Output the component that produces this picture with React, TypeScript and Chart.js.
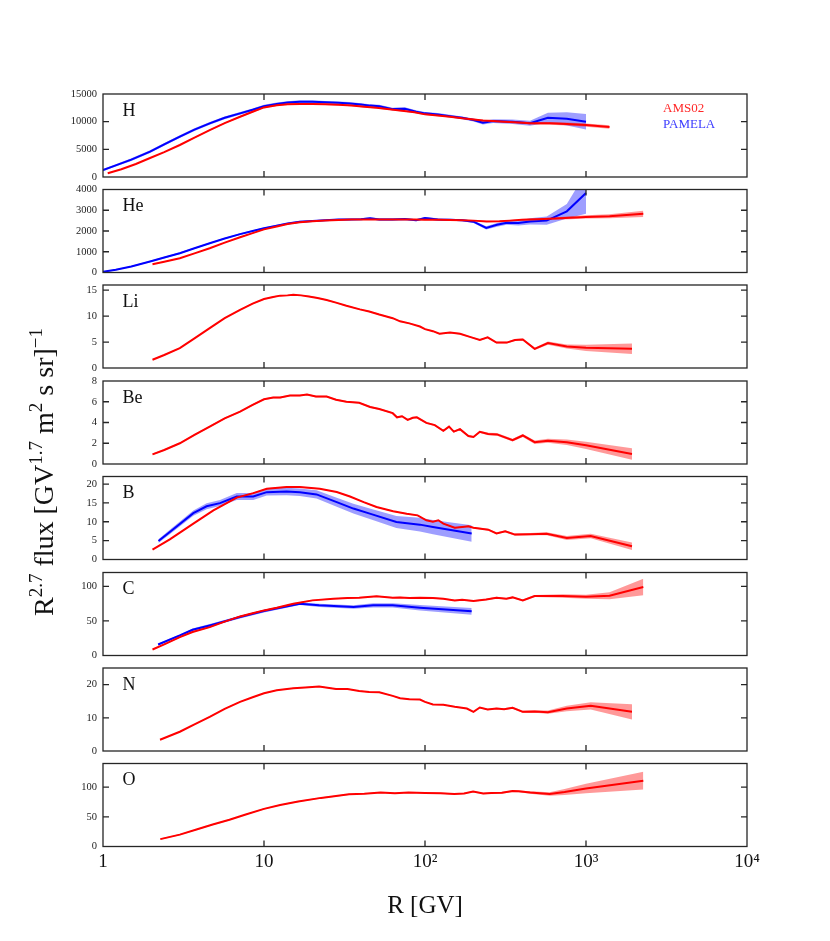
import { useEffect, useRef } from 'react';
import { Chart, registerables } from 'chart.js';

Chart.register(...registerables);

const FIG_W = 830;
const FIG_H = 941;
const AXIS_LEFT = 103;
const AXIS_RIGHT = 747;
const PANEL_H = 83;
const PANEL_TOPS = [94, 189.5, 285, 381, 476.5, 572.5, 668, 763.5];

const FONT = '"Liberation Serif", "DejaVu Serif", serif';
const RED = '#ff0000';
const BLUE = '#0000ff';
const RED_BAND = 'rgba(255,0,0,0.4)';
const BLUE_BAND = 'rgba(0,0,255,0.38)';
const FRAME = '#262626';

const X_TICKS = [1, 10, 100, 1000, 10000];
const X_TICK_LABELS = ['1', '10', '10²', '10³', '10⁴'];

const ELEMENTS = ['H', 'He', 'Li', 'Be', 'B', 'C', 'N', 'O'];
const Y_MAX = [15000, 4000, 16, 8, 22, 120, 25, 140];
const Y_TICKS = [
  [0, 5000, 10000, 15000],
  [0, 1000, 2000, 3000, 4000],
  [0, 5, 10, 15],
  [0, 2, 4, 6, 8],
  [0, 5, 10, 15, 20],
  [0, 50, 100],
  [0, 10, 20],
  [0, 50, 100],
];

// ---- H ----
const H_AMS_R = [1.07, 1.3, 1.6, 1.96, 2.4, 3.0, 3.7, 4.6, 5.7, 7.1, 8.5, 10, 12, 14, 16.7, 20, 24, 29, 35, 42, 50, 60, 72, 86, 100, 120, 143, 170, 200, 229, 265, 310, 360, 449, 594, 760, 1000, 1400];
const H_AMS_F = [670, 1400, 2350, 3430, 4500, 5780, 7100, 8480, 9750, 10890, 11800, 12580, 12950, 13150, 13180, 13200, 13150, 13050, 12900, 12700, 12500, 12250, 11970, 11700, 11320, 11100, 10900, 10600, 10400, 10200, 10100, 10000, 9900, 9700, 9700, 9570, 9390, 9030];
const H_AMS_E = [60, 60, 60, 70, 80, 90, 100, 110, 120, 130, 130, 130, 130, 130, 130, 130, 130, 130, 130, 130, 130, 130, 130, 130, 130, 130, 140, 140, 150, 160, 170, 180, 200, 220, 250, 280, 300, 320];
const H_PAM_R = [1.0, 1.2, 1.5, 1.96, 2.4, 3.0, 3.7, 4.6, 5.7, 7.1, 8.5, 10, 12, 14, 16.7, 20, 24, 29, 34, 40, 45.6, 52, 63, 75, 88, 100, 120, 143, 170, 200, 229, 265, 350, 449, 580, 760, 1000];
const H_PAM_F = [1260, 2100, 3150, 4570, 5900, 7280, 8550, 9700, 10700, 11500, 12150, 12800, 13200, 13450, 13600, 13600, 13500, 13400, 13300, 13100, 12900, 12800, 12270, 12350, 11800, 11500, 11300, 11000, 10700, 10300, 9800, 10100, 10000, 9700, 10700, 10520, 10000];
const H_PAM_E = [200, 220, 240, 250, 250, 250, 250, 250, 250, 250, 250, 250, 250, 250, 250, 250, 250, 250, 250, 250, 250, 250, 250, 250, 250, 250, 250, 250, 250, 250, 300, 350, 400, 450, 900, 1200, 1400];

// ---- He ----
const HE_AMS_R = [2.03, 2.4, 3.0, 3.7, 4.6, 5.7, 7.1, 8.5, 10, 12, 14, 16.7, 20, 24, 29, 35, 42, 50, 60, 72, 86, 100, 120, 143, 170, 200, 241, 290, 336, 400, 500, 594, 800, 1000, 1400, 2270];
const HE_AMS_F = [400, 520, 690, 920, 1170, 1440, 1700, 1900, 2080, 2220, 2340, 2420, 2470, 2510, 2530, 2550, 2560, 2560, 2560, 2550, 2550, 2540, 2540, 2530, 2520, 2500, 2460, 2470, 2500, 2540, 2570, 2590, 2640, 2680, 2710, 2830];
const HE_AMS_E = [20, 20, 20, 20, 20, 20, 20, 20, 20, 20, 20, 20, 20, 20, 20, 20, 20, 20, 20, 20, 20, 20, 20, 25, 25, 25, 30, 30, 30, 35, 40, 50, 70, 80, 100, 150];
const HE_PAM_R = [1.0, 1.2, 1.5, 1.96, 2.4, 3.0, 3.7, 4.6, 5.7, 7.1, 8.5, 10, 12, 14, 16.7, 20, 24, 29, 34, 40, 45.6, 52, 63, 75, 88, 100, 120, 143, 170, 200, 240, 280, 322, 380, 449, 570, 760, 1000];
const HE_PAM_F = [30, 130, 290, 530, 720, 930, 1170, 1410, 1640, 1850, 2000, 2130, 2260, 2360, 2450, 2480, 2520, 2550, 2560, 2570, 2610, 2560, 2560, 2580, 2520, 2620, 2560, 2540, 2520, 2450, 2150, 2300, 2400, 2380, 2460, 2500, 2950, 3830];
const HE_PAM_E = [30, 30, 30, 40, 40, 40, 40, 40, 40, 40, 40, 40, 40, 40, 40, 40, 40, 40, 40, 40, 50, 50, 50, 50, 50, 50, 50, 50, 50, 60, 80, 90, 100, 120, 150, 200, 350, 1000];

// ---- Li ----
const LI_AMS_R = [2.03, 2.4, 3.0, 3.7, 4.6, 5.7, 7.1, 8.5, 10, 11.4, 12.6, 14, 15.2, 17, 19, 21.5, 24.5, 28, 32.5, 39.4, 45, 52, 63, 70, 80, 93, 100, 112, 123, 143, 165, 190, 219, 245, 278, 322, 362, 405, 480, 580, 760, 1000, 1930];
const LI_AMS_F = [1.6, 2.5, 3.84, 5.7, 7.7, 9.6, 11.2, 12.4, 13.3, 13.7, 13.95, 14.0, 14.1, 14.0, 13.8, 13.5, 13.1, 12.6, 12.0, 11.3, 10.9, 10.3, 9.6, 9.0, 8.6, 8.0, 7.5, 7.1, 6.6, 6.84, 6.6, 6.0, 5.4, 5.9, 4.9, 4.9, 5.4, 5.5, 3.7, 4.8, 4.15, 3.9, 3.7];
const LI_AMS_E = [0.12, 0.12, 0.12, 0.12, 0.12, 0.12, 0.12, 0.12, 0.12, 0.12, 0.12, 0.12, 0.12, 0.12, 0.12, 0.12, 0.12, 0.12, 0.12, 0.12, 0.12, 0.12, 0.12, 0.12, 0.12, 0.12, 0.12, 0.12, 0.12, 0.12, 0.14, 0.14, 0.15, 0.15, 0.16, 0.17, 0.18, 0.2, 0.22, 0.3, 0.4, 0.6, 1.0];

// ---- Be ----
const BE_AMS_R = [2.03, 2.4, 3.0, 3.7, 4.6, 5.7, 7.1, 8.5, 10, 11.4, 12.6, 14.5, 16.7, 18.5, 21, 24.5, 28, 32.5, 39, 45.6, 52, 63, 67, 72, 78, 84, 89, 102, 115, 130, 141, 151, 165, 186, 200, 219, 247, 280, 350, 405, 480, 580, 760, 1000, 1930];
const BE_AMS_F = [0.93, 1.35, 2.0, 2.8, 3.6, 4.4, 5.04, 5.7, 6.24, 6.4, 6.4, 6.6, 6.6, 6.7, 6.5, 6.5, 6.2, 6.0, 5.9, 5.5, 5.3, 4.9, 4.5, 4.6, 4.25, 4.45, 4.5, 3.96, 3.75, 3.2, 3.6, 3.12, 3.36, 2.7, 2.6, 3.1, 2.9, 2.85, 2.3, 2.75, 2.1, 2.24, 2.1, 1.8, 0.96];
const BE_AMS_E = [0.08, 0.08, 0.08, 0.08, 0.08, 0.08, 0.08, 0.08, 0.08, 0.08, 0.08, 0.08, 0.08, 0.08, 0.08, 0.08, 0.08, 0.08, 0.08, 0.08, 0.08, 0.08, 0.08, 0.08, 0.08, 0.08, 0.08, 0.08, 0.08, 0.08, 0.09, 0.09, 0.1, 0.1, 0.1, 0.11, 0.12, 0.13, 0.14, 0.15, 0.17, 0.2, 0.26, 0.35, 0.55];

// ---- B ----
const B_AMS_R = [2.03, 2.6, 3.64, 4.85, 6.77, 8.58, 10.4, 13.8, 16.7, 22.2, 28.3, 34.2, 41.6, 50, 63.4, 77, 90, 102, 112, 121, 130, 153, 170, 186, 200, 247, 278, 315, 362, 450, 570, 760, 1070, 1930];
const B_AMS_F = [2.64, 5.36, 9.5, 13.0, 16.4, 17.6, 18.75, 19.2, 19.2, 18.75, 17.9, 16.7, 15.2, 13.9, 12.8, 12.1, 11.7, 10.4, 10.0, 10.4, 9.5, 8.4, 8.6, 8.8, 8.4, 7.9, 6.9, 7.5, 6.6, 6.7, 6.8, 5.7, 6.2, 3.5];
const B_AMS_E = [0.15, 0.15, 0.15, 0.15, 0.15, 0.15, 0.15, 0.15, 0.15, 0.15, 0.15, 0.15, 0.15, 0.15, 0.15, 0.15, 0.15, 0.15, 0.15, 0.15, 0.16, 0.17, 0.18, 0.18, 0.2, 0.22, 0.24, 0.26, 0.28, 0.3, 0.4, 0.5, 0.6, 1.0];
const B_PAM_R = [2.21, 2.6, 3.64, 4.4, 5.33, 6.77, 8.58, 10.4, 13.8, 16.7, 21.2, 28.3, 35.9, 45.4, 66.4, 93, 112, 195];
const B_PAM_F = [4.9, 7.3, 12.3, 14.1, 14.95, 16.7, 16.7, 17.85, 18.0, 17.85, 17.25, 15.2, 13.5, 12.15, 9.93, 9.24, 8.6, 6.9];
const B_PAM_E = [0.5, 0.6, 0.7, 0.8, 0.8, 0.9, 0.9, 0.9, 1.0, 1.0, 1.1, 1.2, 1.3, 1.4, 1.6, 1.8, 1.9, 2.2];

// ---- C ----
const C_AMS_R = [2.03, 2.4, 3.0, 3.6, 4.6, 5.7, 7.1, 8.5, 10, 12, 15.2, 20, 27, 33, 39, 50, 63, 70, 80, 93, 112, 130, 153, 170, 200, 240, 278, 320, 350, 405, 480, 715, 1000, 1400, 2270];
const C_AMS_F = [8.7, 16, 26.5, 34, 41, 49, 56.5, 61, 65.2, 69, 74.9, 79.7, 82, 83, 83.6, 85.5, 83.6, 84, 83, 83.6, 83, 82, 79.7, 80.5, 78.8, 81, 83.6, 82, 84, 79.7, 86, 86, 85, 86.5, 99];
const C_AMS_E = [0.8, 0.8, 0.8, 0.8, 0.8, 0.8, 0.8, 0.8, 0.8, 0.8, 0.8, 0.8, 0.8, 0.8, 0.8, 0.8, 0.8, 0.8, 0.8, 0.8, 0.9, 0.9, 1, 1, 1, 1.1, 1.2, 1.2, 1.3, 1.4, 1.5, 2.5, 3, 5, 12];
const C_PAM_R = [2.2, 3.0, 3.6, 4.6, 7.1, 10, 16.7, 22, 36, 47.6, 63, 93, 195];
const C_PAM_F = [15.9, 29, 37.2, 43.5, 55.6, 64.2, 74.9, 72.5, 70, 72.5, 72.5, 69, 63.8];
const C_PAM_E = [1.5, 1.5, 2, 2, 2, 2, 2, 2.5, 2.5, 3, 3, 4, 5];

// ---- N ----
const N_AMS_R = [2.26, 3.0, 3.7, 4.6, 5.7, 7.1, 8.5, 10, 12, 15.2, 18, 22, 28, 33, 39, 45, 52, 63, 70, 80, 93, 100, 112, 130, 153, 182, 200, 219, 245, 278, 310, 350, 405, 480, 580, 760, 1070, 1930];
const N_AMS_F = [3.4, 5.8, 8.0, 10.3, 12.7, 14.8, 16.2, 17.4, 18.3, 18.9, 19.1, 19.4, 18.7, 18.7, 18.1, 17.8, 17.7, 16.6, 15.9, 15.6, 15.5, 14.8, 14.0, 13.9, 13.3, 12.8, 11.8, 13.1, 12.5, 12.8, 12.6, 13.0, 11.8, 11.9, 11.7, 12.8, 13.6, 11.8];
const N_AMS_E = [0.15, 0.15, 0.15, 0.15, 0.15, 0.15, 0.15, 0.15, 0.15, 0.15, 0.15, 0.15, 0.15, 0.15, 0.15, 0.15, 0.15, 0.15, 0.15, 0.15, 0.15, 0.15, 0.15, 0.15, 0.15, 0.18, 0.2, 0.2, 0.22, 0.25, 0.28, 0.3, 0.35, 0.4, 0.5, 0.8, 1.1, 2.3];

// ---- O ----
const O_AMS_R = [2.27, 3.0, 3.85, 4.8, 6.1, 7.7, 10, 12.6, 16.3, 22.6, 28, 33.7, 42, 53, 65, 79, 100, 125, 152, 175, 199, 230, 258, 300, 350, 382, 450, 594, 736, 1000, 2270];
const O_AMS_F = [12.4, 20, 29, 37, 45, 54, 63.5, 70, 75.8, 82, 85, 88, 89, 91, 90, 91, 90.4, 90, 88.5, 89.5, 92.6, 89.5, 90.4, 90.5, 93.5, 93, 91, 88.5, 92, 98, 111];
const O_AMS_E = [1, 1, 1, 1, 1, 1, 1, 1, 1, 1, 1, 1, 1, 1, 1, 1, 1, 1, 1, 1, 1.1, 1.2, 1.3, 1.4, 1.5, 1.6, 2, 3, 5, 8, 15];

type Series = { r: number[]; f: number[]; e: number[] };

const AMS: Series[] = [
  { r: H_AMS_R, f: H_AMS_F, e: H_AMS_E },
  { r: HE_AMS_R, f: HE_AMS_F, e: HE_AMS_E },
  { r: LI_AMS_R, f: LI_AMS_F, e: LI_AMS_E },
  { r: BE_AMS_R, f: BE_AMS_F, e: BE_AMS_E },
  { r: B_AMS_R, f: B_AMS_F, e: B_AMS_E },
  { r: C_AMS_R, f: C_AMS_F, e: C_AMS_E },
  { r: N_AMS_R, f: N_AMS_F, e: N_AMS_E },
  { r: O_AMS_R, f: O_AMS_F, e: O_AMS_E },
];

const PAM: (Series | null)[] = [
  { r: H_PAM_R, f: H_PAM_F, e: H_PAM_E },
  { r: HE_PAM_R, f: HE_PAM_F, e: HE_PAM_E },
  null,
  null,
  { r: B_PAM_R, f: B_PAM_F, e: B_PAM_E },
  { r: C_PAM_R, f: C_PAM_F, e: C_PAM_E },
  null,
  null,
];

const LEGEND = [
  { text: 'AMS02', color: 'rgb(255,40,40)' },
  { text: 'PAMELA', color: 'rgb(60,60,255)' },
];

function pts(s: Series, sign: number) {
  return s.r.map((r, i) => ({ x: r, y: s.f[i] + sign * (s.e[i] ?? 0) }));
}

function buildDatasets(i: number) {
  const ds: any[] = [];
  const pam = PAM[i];
  const ams = AMS[i];
  const bandBase = { borderWidth: 0, borderColor: 'transparent', pointRadius: 0, tension: 0 };
  if (pam) {
    ds.push({ ...bandBase, data: pts(pam, 1), fill: '+1', backgroundColor: BLUE_BAND, order: 4 });
    ds.push({ ...bandBase, data: pts(pam, -1), fill: false, order: 4 });
  }
  ds.push({ ...bandBase, data: pts(ams, 1), fill: '+1', backgroundColor: RED_BAND, order: 3 });
  ds.push({ ...bandBase, data: pts(ams, -1), fill: false, order: 3 });
  if (pam) {
    ds.push({ data: pts(pam, 0), borderColor: BLUE, borderWidth: 2, pointRadius: 0, fill: false, tension: 0, order: 2 });
  }
  ds.push({ data: pts(ams, 0), borderColor: RED, borderWidth: 2, pointRadius: 0, fill: false, tension: 0, order: 1 });
  return ds;
}

function makeDeco(i: number) {
  const isBottom = i === ELEMENTS.length - 1;
  return {
    id: 'panelDeco' + i,
    afterDraw(chart: any) {
      const { ctx, chartArea: a, scales } = chart;
      const xs = scales.x;
      const ys = scales.y;
      ctx.save();
      ctx.strokeStyle = FRAME;
      ctx.lineWidth = 1.3;
      ctx.strokeRect(a.left, a.top, a.right - a.left, a.bottom - a.top);
      ctx.beginPath();
      X_TICKS.forEach((v) => {
        const px = xs.getPixelForValue(v);
        if (px > a.left + 1 && px < a.right - 1) {
          ctx.moveTo(px, a.bottom);
          ctx.lineTo(px, a.bottom - 6);
          ctx.moveTo(px, a.top);
          ctx.lineTo(px, a.top + 6);
        }
      });
      Y_TICKS[i].forEach((v) => {
        const py = ys.getPixelForValue(v);
        if (py > a.top + 1 && py < a.bottom - 1) {
          ctx.moveTo(a.left, py);
          ctx.lineTo(a.left + 6, py);
          ctx.moveTo(a.right, py);
          ctx.lineTo(a.right - 6, py);
        }
      });
      ctx.stroke();

      ctx.fillStyle = '#111';
      ctx.textAlign = 'left';
      ctx.textBaseline = 'alphabetic';
      ctx.font = `18px ${FONT}`;
      ctx.fillText(ELEMENTS[i], a.left + 19.5, a.top + 21.5);

      if (i === 0) {
        ctx.font = `13px ${FONT}`;
        LEGEND.forEach((l, k) => {
          ctx.fillStyle = l.color;
          ctx.fillText(l.text, 663, 111.5 + k * 16.5);
        });
      }

      if (isBottom) {
        // x title
        ctx.fillStyle = '#111';
        ctx.textAlign = 'center';
        ctx.font = `25px ${FONT}`;
        ctx.fillText('R [GV]', (AXIS_LEFT + AXIS_RIGHT) / 2, 913);

        // y title with superscripts
        const parts: [string, boolean][] = [
          ['R', false], ['2.7', true], [' flux [GV', false], ['1.7', true],
          [' m', false], ['2', true], [' s sr]', false], ['\u22121', true],
        ];
        const mainF = `28px ${FONT}`;
        const supF = `19px ${FONT}`;
        let total = 0;
        const widths = parts.map(([t, sup]) => {
          ctx.font = sup ? supF : mainF;
          const w = ctx.measureText(t).width;
          total += w;
          return w;
        });
        ctx.translate(53, 472);
        ctx.rotate(-Math.PI / 2);
        ctx.textAlign = 'left';
        let xx = -total / 2;
        parts.forEach(([t, sup], k) => {
          ctx.font = sup ? supF : mainF;
          ctx.fillText(t, xx, sup ? -11 : 0);
          xx += widths[k];
        });
      }
      ctx.restore();
    },
  };
}

function PanelChart({ i }: { i: number }) {
  const ref = useRef<HTMLCanvasElement | null>(null);
  useEffect(() => {
    const canvas = ref.current;
    if (!canvas) return;
    const isBottom = i === ELEMENTS.length - 1;
    const bottom = PANEL_TOPS[i] + PANEL_H;
    const chart = new Chart(canvas, {
      type: 'line',
      data: { datasets: buildDatasets(i) },
      plugins: [makeDeco(i)],
      options: {
        responsive: false,
        maintainAspectRatio: false,
        animation: false,
        events: [],
        layout: { padding: { top: PANEL_TOPS[i], left: 0, right: FIG_W - AXIS_RIGHT, bottom: 0 } },
        plugins: { legend: { display: false }, tooltip: { enabled: false } },
        scales: {
          x: {
            type: 'logarithmic',
            min: 1,
            max: 10000,
            grid: { display: false, drawTicks: false },
            border: { display: false },
            afterBuildTicks: (s: any) => {
              s.ticks = X_TICKS.map((v) => ({ value: v }));
            },
            afterFit: (s: any) => {
              s.height = FIG_H - bottom;
            },
            ticks: {
              display: isBottom,
              autoSkip: false,
              maxRotation: 0,
              padding: 4,
              color: '#111',
              font: { family: FONT, size: 19 },
              callback: (v: any) => {
                const k = X_TICKS.indexOf(Number(v));
                return k >= 0 ? X_TICK_LABELS[k] : '';
              },
            },
          },
          y: {
            type: 'linear',
            min: 0,
            max: Y_MAX[i],
            grid: { display: false, drawTicks: false },
            border: { display: false },
            afterBuildTicks: (s: any) => {
              s.ticks = Y_TICKS[i].map((v) => ({ value: v }));
            },
            afterFit: (s: any) => {
              s.width = AXIS_LEFT;
            },
            ticks: {
              autoSkip: false,
              padding: 6,
              color: '#222',
              font: { family: FONT, size: 10.5 },
              callback: (v: any) => String(v),
            },
          },
        },
      } as any,
    });
    return () => chart.destroy();
  }, [i]);
  return (
    <canvas
      ref={ref}
      width={FIG_W}
      height={FIG_H}
      style={{ position: 'absolute', left: 0, top: 0, width: FIG_W, height: FIG_H }}
    />
  );
}

export default function App() {
  return (
    <div style={{ position: 'absolute', left: 0, top: 0, width: FIG_W, height: FIG_H, background: '#fff' }}>
      {ELEMENTS.map((_, i) => (
        <PanelChart key={i} i={i} />
      ))}
    </div>
  );
}
